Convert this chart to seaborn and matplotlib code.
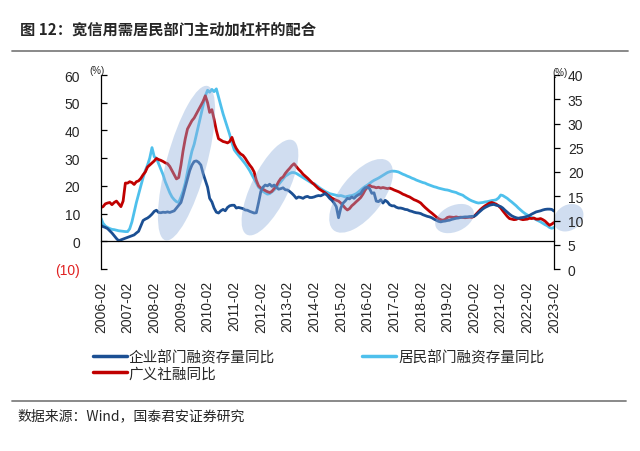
import numpy as np
import pandas as pd
import matplotlib
matplotlib.use("Agg")
import matplotlib.pyplot as plt
import matplotlib.dates as mdates
from matplotlib.patches import Ellipse
from matplotlib.transforms import ScaledTranslation
from matplotlib.lines import Line2D
import seaborn as sns

# ---------------- data (monthly, 2006-02 .. 2023-02, left-axis %) ----------------
start_month = "2006-02"
corporate = [
    5.8, 5.3, 5.0, 4.6, 3.8, 3.0, 2.0, 1.0, 0.2, 0.5, 0.8, 1.1,
    1.4, 1.7, 2.0, 2.3, 3.0, 3.6, 5.5, 7.5, 8.0, 8.4, 9.0, 9.8,
    10.8, 11.2, 10.4, 10.3, 10.5, 10.4, 10.6, 10.4, 10.7, 11.0, 12.0, 13.0,
    14.0, 16.5, 19.5, 22.5, 25.5, 27.5, 28.8, 29.0, 28.5, 27.5, 24.5, 22.0,
    19.5, 15.5, 14.2, 12.0, 10.5, 10.2, 11.0, 11.5, 11.0, 12.2, 12.8, 13.0,
    13.0, 12.0, 12.2, 12.0, 11.8, 11.3, 11.2, 10.8, 10.5, 10.2, 10.3, 14.0,
    18.0, 19.5, 20.3, 20.0, 20.6, 19.8, 20.3, 19.5, 18.8, 19.0, 19.3, 18.6,
    18.5, 18.0, 17.3, 16.5, 15.5, 16.0, 15.8, 15.5, 16.0, 16.2, 15.8, 15.8,
    16.0, 16.3, 16.5, 16.4, 16.8, 17.2, 16.5, 15.5, 14.8, 13.8, 12.5, 8.5,
    12.0, 13.7, 14.5, 15.5, 15.3, 16.0, 15.5, 16.3, 16.8, 17.2, 18.5, 19.3,
    19.5, 19.0, 17.3, 17.5, 14.5, 14.3, 15.0, 13.8, 14.8, 14.2, 13.2, 12.8,
    12.8, 12.3, 12.0, 12.0, 11.8, 11.5, 11.4, 11.0, 10.8, 10.5, 10.3, 10.2,
    10.0, 9.6, 9.3, 9.0, 8.8, 8.5, 8.0, 7.6, 7.2, 7.0, 7.2, 7.3,
    7.5, 7.6, 7.9, 8.1, 8.3, 8.4, 8.6, 8.7, 8.8, 8.8, 8.9, 9.0,
    9.0, 9.5, 10.3, 11.0, 11.7, 12.2, 12.6, 13.0, 13.2, 13.3, 13.0, 12.8,
    12.5, 12.0, 11.2, 10.5, 9.8, 9.2, 8.8, 8.5, 8.3, 8.5, 8.6, 8.8,
    9.0, 9.3, 9.8, 10.2, 10.6, 10.8, 11.0, 11.3, 11.5, 11.6, 11.6, 11.5,
    10.9,
]
household = [
    8.3, 6.5, 5.5, 5.0, 4.6, 4.3, 4.2, 4.0, 3.8, 3.7, 3.6, 3.5,
    3.5, 4.5, 7.0, 10.5, 14.0, 17.0, 20.0, 23.0, 25.5, 27.5, 30.0, 33.8,
    30.5, 30.0, 28.0, 26.0, 24.0, 21.5, 19.5, 17.5, 16.0, 15.0, 14.3, 14.0,
    16.0, 18.0, 21.0, 25.0, 29.0, 32.5, 35.0, 38.5, 42.0, 45.5, 49.0, 52.5,
    54.5, 53.8, 54.8, 54.0, 55.0, 52.0, 49.0, 46.0, 43.5, 41.0, 38.5, 35.5,
    33.0, 32.0, 31.0, 30.0, 29.0, 28.0, 26.8, 25.5, 24.0, 22.5, 21.0, 19.5,
    18.8, 18.0, 17.5, 17.0, 17.2, 17.8, 18.5, 19.5, 20.5, 21.5, 22.5, 23.5,
    24.0, 24.5, 24.8, 24.8, 24.5, 24.0, 23.5, 23.0, 22.5, 22.0, 21.5, 21.0,
    20.8, 20.2, 19.6, 19.0, 18.5, 18.0, 17.6, 17.2, 17.0, 16.8, 16.6, 16.4,
    16.5, 16.3, 16.0, 16.2, 16.4, 16.5, 16.8, 17.2, 17.8, 18.5, 19.2, 19.8,
    20.3, 20.9, 21.5, 22.0, 22.4, 22.8, 23.3, 23.8, 24.3, 24.8, 25.1, 25.3,
    25.3, 25.2, 25.0, 24.6, 24.2, 23.9, 23.5, 23.2, 22.8, 22.5, 22.1, 21.8,
    21.5, 21.2, 21.0, 20.6, 20.3, 20.0, 19.7, 19.5, 19.2, 19.0, 18.8, 18.6,
    18.5, 18.3, 18.0, 17.8, 17.6, 17.2, 16.9, 16.6, 16.0, 15.5, 15.0, 14.6,
    14.3, 14.0, 13.8, 13.9, 14.0, 14.2, 14.3, 14.5, 14.7, 14.8, 15.0, 15.6,
    16.7, 16.5, 16.0, 15.5, 14.8, 14.2, 13.5, 12.8, 12.0, 11.3, 10.6, 10.0,
    9.5, 9.0, 8.6, 8.2, 7.8, 7.4, 7.0, 6.5, 6.0, 5.6, 5.0, 4.7,
    5.0,
]
tsf = [
    12.2, 12.5, 13.5, 13.8, 14.0, 13.2, 14.0, 14.5, 13.5, 12.5, 14.5, 21.0,
    21.0, 21.5, 21.2, 20.5, 21.5, 21.8, 22.7, 24.0, 25.0, 26.8, 27.5, 28.2,
    29.0, 29.9, 29.5, 29.2, 28.8, 28.3, 28.0, 27.0, 25.5, 24.0, 22.5, 23.0,
    27.5, 32.5, 37.0, 40.5, 42.0, 43.5, 44.5, 46.0, 47.5, 49.0, 50.5, 52.5,
    50.0, 46.5, 47.5, 44.0, 40.0, 37.0, 36.5, 36.0, 35.8, 35.5, 36.0, 37.5,
    35.0, 33.5, 32.3, 31.5, 31.0, 30.0, 28.7, 27.5, 26.5, 25.0, 22.0, 20.0,
    19.2, 18.8, 18.3, 17.9, 17.6, 18.0, 19.0, 20.0, 21.5, 22.7, 23.2, 24.5,
    25.5, 26.3, 27.3, 28.0, 27.0, 26.0, 25.2, 24.2, 23.5, 22.8, 22.0, 21.2,
    20.5, 19.8, 19.0, 18.5, 18.0, 17.5, 16.8, 16.2, 15.6, 15.2, 14.8, 14.5,
    13.8, 13.0, 12.0, 11.3, 11.8, 12.8, 13.5, 14.3, 15.0, 15.8, 17.0, 18.5,
    19.5, 20.2, 19.7, 19.6, 19.3, 19.5, 19.2, 19.4, 19.2, 19.0, 19.2, 18.9,
    18.5, 18.2, 17.9, 17.5, 17.0, 16.7, 16.3, 16.0, 15.5, 15.0, 14.7, 14.3,
    13.8, 13.0, 12.2, 11.5, 10.8, 10.2, 9.5, 8.8, 8.2, 7.8, 7.6, 7.9,
    8.6, 8.8, 8.7, 8.6, 8.8, 8.6, 8.7, 8.6, 8.5, 8.6, 8.7, 8.6,
    9.0, 9.8, 10.6, 11.5, 12.2, 12.8, 13.3, 13.8, 14.0, 13.7, 13.4, 12.8,
    12.0, 11.0, 10.0, 9.0, 8.2, 8.0, 7.8, 7.9, 8.3, 8.0, 7.8, 7.9,
    8.0, 8.3, 8.2, 8.4, 8.0, 8.0, 8.2, 7.8, 7.3, 6.5, 5.8, 6.2,
    6.8,
]
series_names = ["企业部门融资存量同比", "居民部门融资存量同比", "广义社融同比"]
tick_years = list(range(2006, 2024))
left_ticks = [-10, 0, 10, 20, 30, 40, 50, 60]
left_tick_labels = ["(10)", "0", "10", "20", "30", "40", "50", "60"]
right_ticks = [0, 5, 10, 15, 20, 25, 30, 35, 40]

# highlighted periods (month index from 2006-02, left-axis value)
hl_month = [38.5, 76.1, 117.1, 159.2, 210.5]
hl_value = [28.2, 19.4, 16.4, 8.2, 8.5]

# ---------------- style ----------------
sns.set_style("white")
plt.rcParams["font.family"] = ["Liberation Sans", "Noto Sans CJK SC", "DejaVu Sans"]
CJK = ["Noto Sans CJK SC", "DejaVu Sans"]

c_corp = "#1B4F93"
c_house = "#4EC0EC"
c_tsf = "#C00000"

dates = pd.date_range(start_month, periods=len(corporate), freq="MS")
df = pd.DataFrame({"date": dates, "corp": corporate, "house": household, "tsf": tsf})

fig = plt.figure(figsize=(6.4, 4.52), dpi=100)
ax = fig.add_axes([101 / 640, 1 - 270 / 452, 453 / 640, 194 / 452])

sns.lineplot(data=df, x="date", y="house", ax=ax, color=c_house, lw=2.0, legend=False)
sns.lineplot(data=df, x="date", y="tsf", ax=ax, color=c_tsf, lw=2.0, legend=False)
sns.lineplot(data=df, x="date", y="corp", ax=ax, color=c_corp, lw=2.0, legend=False)

xmin = pd.Timestamp("2006-02-01")
xmax = pd.Timestamp("2023-02-01")
ax.set_xlim(xmin, xmax)
ax.set_ylim(-10, 60)
ax.set_xlabel("")
ax.set_ylabel("")

xt = [pd.Timestamp(f"{y}-02-01") for y in tick_years]
ax.set_xticks(xt)
ax.set_xticklabels([f"{y}-02" for y in tick_years], fontsize=8)
ax.set_yticks(left_ticks)
ax.set_yticklabels(left_tick_labels, fontsize=10)
ax.get_yticklabels()[0].set_color("#E02020")

for s in ["top", "right"]:
    ax.spines[s].set_visible(False)
ax.spines["bottom"].set_position(("data", 0))
for s in ["left", "bottom"]:
    ax.spines[s].set_color("black")
    ax.spines[s].set_linewidth(0.9)
ax.tick_params(axis="x", direction="out", length=4, width=0.9, pad=24, color="black",
               labelrotation=90)
ax.tick_params(axis="y", direction="in", length=4, width=0.9, pad=15, color="black")

ax2 = ax.twinx()
ax2.set_ylim(0, 40)
ax2.set_yticks(right_ticks)
ax2.set_yticklabels([str(v) for v in right_ticks], fontsize=10)
for s in ["top", "left", "bottom"]:
    ax2.spines[s].set_visible(False)
ax2.spines["right"].set_color("black")
ax2.spines["right"].set_linewidth(0.9)
ax2.tick_params(axis="y", direction="out", length=4, width=0.9, pad=6, color="black")

# highlight ellipses (sizes in pixels, drawn over the lines)
ell_w = [160, 105, 88, 41, 32]
ell_h = [40, 37, 42, 26, 25]
ell_ang = [74.7, 64, 51.6, 25, 35]
for m, v, w, h, a in zip(hl_month, hl_value, ell_w, ell_h, ell_ang):
    xd = mdates.date2num(xmin + pd.DateOffset(days=int(round(m * 30.44))))
    tr = ScaledTranslation(xd, v, ax.transData)
    e = Ellipse((0, 0), w, h, angle=a, transform=tr, facecolor="#8FB0DC",
                edgecolor="none", alpha=0.42, zorder=5, clip_on=False)
    ax.add_artist(e)

# unit labels
fig.text(97 / 640, 1 - 71 / 452, "(%)", fontsize=7, ha="center", va="center")
fig.text(560 / 640, 1 - 73 / 452, "(%)", fontsize=7, ha="center", va="center")

# legend
hh = [Line2D([], [], color=c_corp, lw=2.5), Line2D([], [], color=c_tsf, lw=2.5),
      Line2D([], [], color=c_house, lw=2.5)]
ll = [series_names[0], series_names[2], series_names[1]]
fig.legend(hh, ll, loc="upper left", bbox_to_anchor=(93 / 640, 1 - 351 / 452), ncol=2,
           frameon=False, borderpad=0, borderaxespad=0, handlelength=2.3,
           handletextpad=0.15, columnspacing=6.0, labelspacing=0.12,
           prop={"family": CJK, "size": 10.5})

# title, rules, source
fig.text(20 / 640, 1 - 30 / 452, "图 12：宽信用需居民部门主动加杠杆的配合", fontsize=11,
         fontweight="bold", family=CJK, ha="left", va="center")
fig.add_artist(Line2D([12 / 640, 628 / 640], [1 - 52 / 452] * 2, color="#808080", lw=1.3))
fig.add_artist(Line2D([12 / 640, 626 / 640], [1 - 402 / 452] * 2, color="#808080", lw=1.3))
fig.text(17 / 640, 1 - 416 / 452, "数据来源：Wind，国泰君安证券研究", fontsize=10,
         family=CJK, ha="left", va="center")

fig.savefig("out.png", dpi=100)
